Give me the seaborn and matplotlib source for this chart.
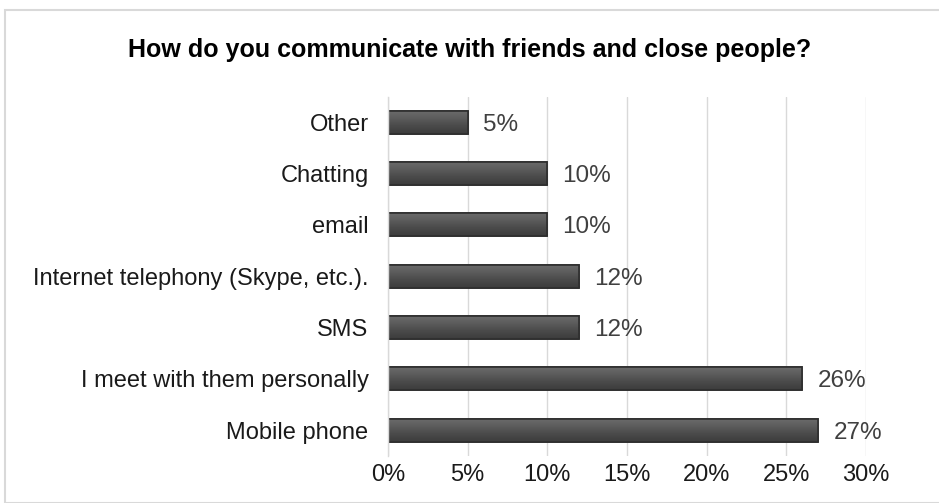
import matplotlib
matplotlib.use("Agg")
import matplotlib.pyplot as plt
import matplotlib.patches as mpatches
import seaborn as sns
import pandas as pd
import numpy as np

categories = ["Other", "Chatting", "email", "Internet telephony (Skype, etc.).",
              "SMS", "I meet with them personally", "Mobile phone"]
values = [5, 10, 10, 12, 12, 26, 27]
xticks = [0, 5, 10, 15, 20, 25, 30]
xtick_labels = ["0%", "5%", "10%", "15%", "20%", "25%", "30%"]
title = "How do you communicate with friends and close people?"

sns.set_theme(style="white")
plt.rcParams['font.family'] = ['Liberation Sans', 'DejaVu Sans']

df = pd.DataFrame({"cat": categories, "val": values})

fig = plt.figure(figsize=(9.39, 5.03), dpi=100)
ax = fig.add_axes([0.4132, 0.094, 0.509, 0.714])

sns.barplot(data=df, x="val", y="cat", orient="h", color="#545454",
            width=0.45, ax=ax, edgecolor="#2e2e2e", linewidth=1.2, saturation=1)

ax.set_xlim(0, 30)
ax.set_xticks(xticks)
ax.set_xticklabels(xtick_labels, fontsize=17, color="#1a1a1a")
ax.tick_params(axis="y", labelsize=17, labelcolor="#1a1a1a", length=0, pad=14)
ax.tick_params(axis="x", length=0, pad=6)
ax.set_xlabel("")
ax.set_ylabel("")
ax.xaxis.grid(True, color="#d9d9d9", linewidth=1)
ax.set_axisbelow(True)
for s in ["top", "right", "bottom"]:
    ax.spines[s].set_visible(False)
ax.spines["left"].set_color("#d9d9d9")
ax.spines["left"].set_linewidth(1)

# bevel-like shading: vertical gradient clipped to each bar
grad = np.linspace(0, 1, 64).reshape(-1, 1)
cmap = matplotlib.colors.LinearSegmentedColormap.from_list(
    "bevel", ["#6c6c6c", "#5c5c5c", "#4a4a4a", "#3c3c3c"])
for p in list(ax.patches):
    x0, y0, w, h = p.get_x(), p.get_y(), p.get_width(), p.get_height()
    im = ax.imshow(grad, extent=(x0, x0 + w, y0 + h, y0), aspect="auto",
                   cmap=cmap, zorder=p.get_zorder() + 0.1, interpolation="bilinear")
    im.set_clip_path(p)
    edge = mpatches.Rectangle((x0, y0), w, h, fill=False, edgecolor="#2e2e2e",
                              linewidth=1.2, zorder=p.get_zorder() + 0.2)
    ax.add_patch(edge)
ax.set_ylim(6.5, -0.5)
ax.set_xlim(0, 30)

for p, v in zip(ax.patches[:len(values)], values):
    y = p.get_y() + p.get_height() / 2
    ax.text(p.get_width() + 0.95, y, f"{v}%", va="center_baseline", ha="left",
            fontsize=17.5, color="#404040")

fig.text(0.5, 0.9, title, ha="center", va="center", fontsize=18,
         fontweight="bold", color="#000000")

border = mpatches.Rectangle((5 / 939, 0), 1, 1 - 10 / 503, transform=fig.transFigure,
                            fill=False, edgecolor="#d9d9d9", linewidth=1.5)
fig.patches.append(border)

fig.savefig("out.png", dpi=100, facecolor="white")
